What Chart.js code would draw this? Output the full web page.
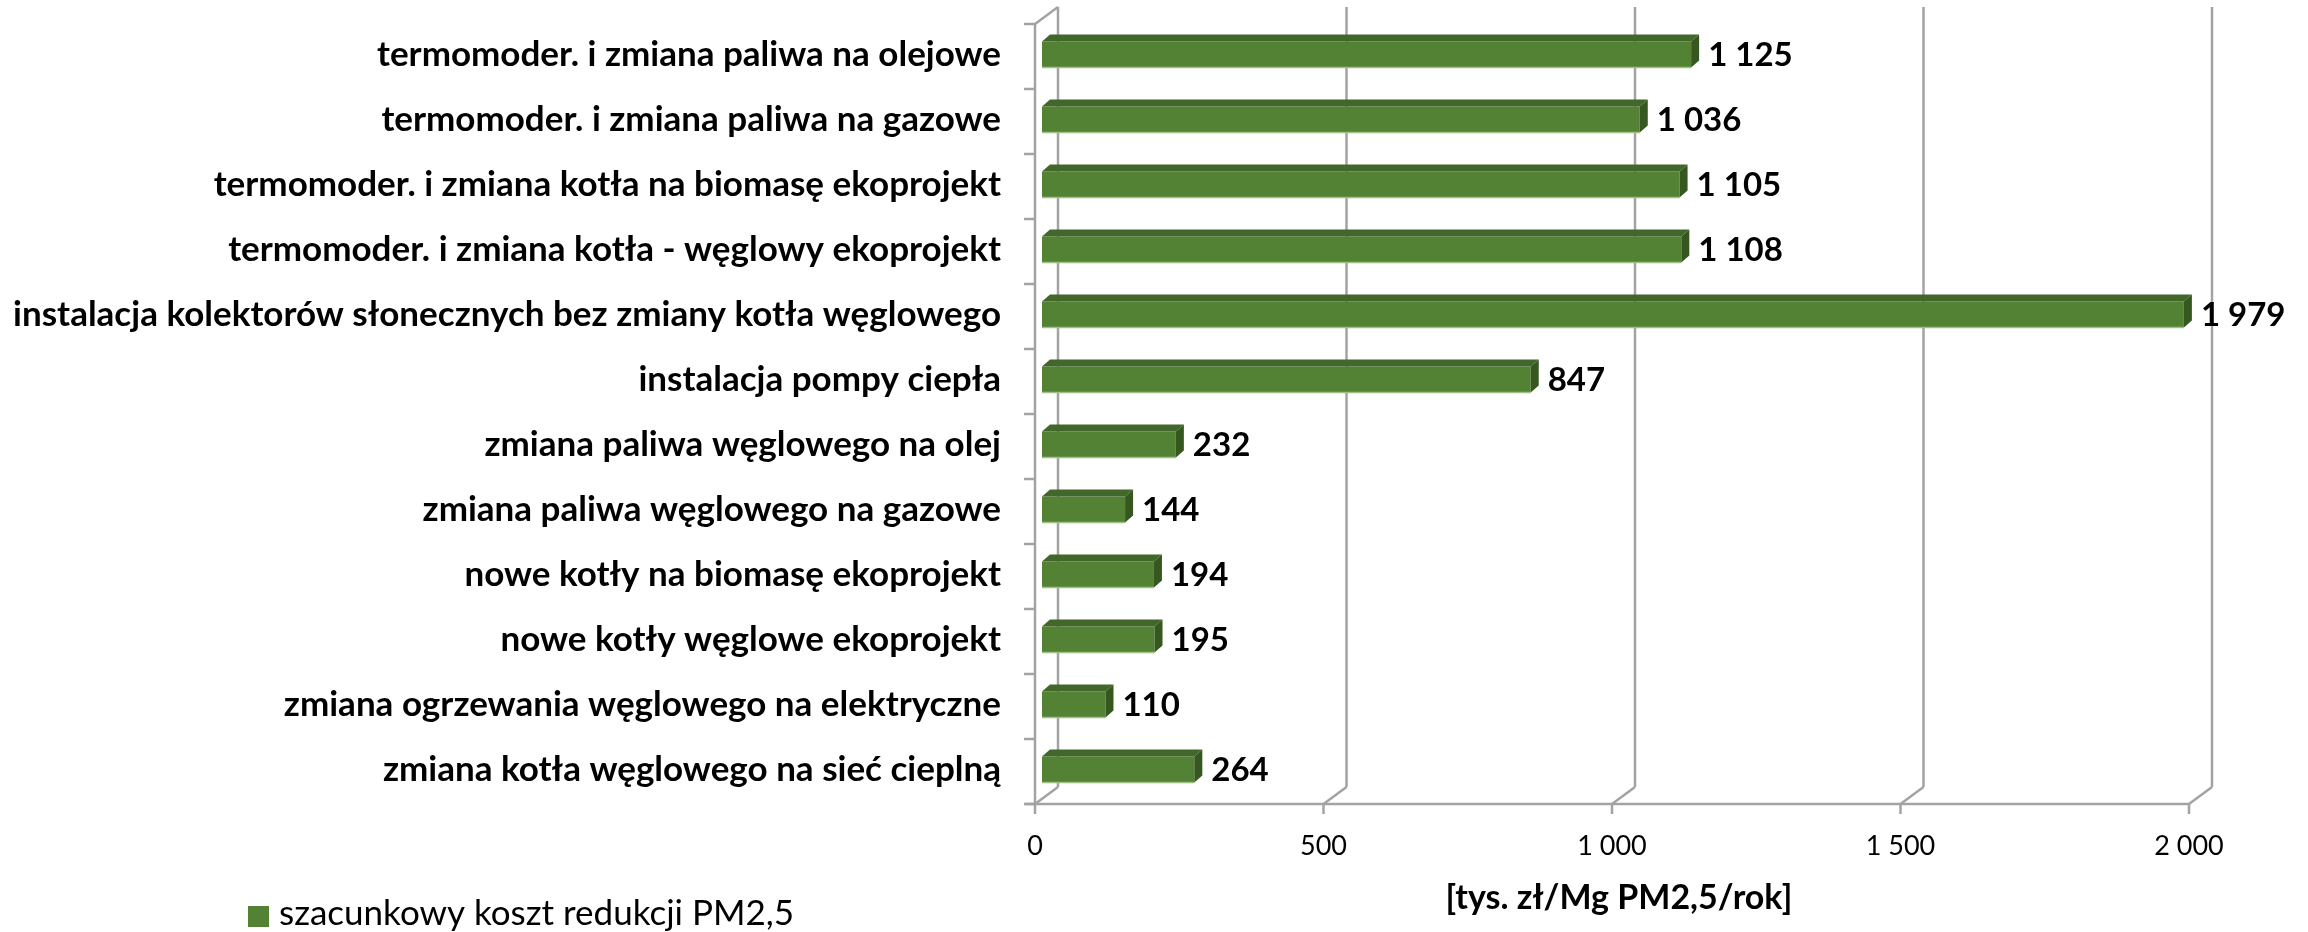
<!DOCTYPE html>
<html lang="pl">
<head>
  <meta charset="UTF-8" />
  <title>Koszt redukcji PM2,5</title>
  <script src="https://cdn.jsdelivr.net/npm/chart.js"></script>
  <style>
    html, body { margin: 0; padding: 0; background: #fff; }
    canvas { display: block; }
  </style>
</head>
<body>
  <canvas id="costChart" width="2308" height="932"></canvas>

  <script>
    // categories, top to bottom
    const measures = [
      'termomoder. i zmiana paliwa na olejowe',
      'termomoder. i zmiana paliwa na gazowe',
      'termomoder. i zmiana kotła na biomasę ekoprojekt',
      'termomoder. i zmiana kotła - węglowy ekoprojekt',
      'instalacja kolektorów słonecznych bez zmiany kotła węglowego',
      'instalacja pompy ciepła',
      'zmiana paliwa węglowego na olej',
      'zmiana paliwa węglowego na gazowe',
      'nowe kotły na biomasę ekoprojekt',
      'nowe kotły węglowe ekoprojekt',
      'zmiana ogrzewania węglowego na elektryczne',
      'zmiana kotła węglowego na sieć cieplną'
    ];
    const reductionCost = [1125, 1036, 1105, 1108, 1979, 847, 232, 144, 194, 195, 110, 264];
    const xTicks = [0, 500, 1000, 1500, 2000];

    const seriesName = 'szacunkowy koszt redukcji PM2,5';
    const axisTitle = '[tys. zł/Mg PM2,5/rok]';

    const GREEN = '#548235';
    const GREEN_TOP = '#42672a';
    const GREEN_SIDE = '#375721';
    const FRAME = '#a3a3a3';

    // 3D look: bar depth and wall offsets (px)
    const BAR_DX = 8, BAR_DY = -7;
    const FRONT_DX = -7, FRONT_DY = 2;
    const BACK_DX = 16, BACK_DY = -15;

    function fmt(v) {
      return String(v).replace(/\B(?=(\d{3})+(?!\d))/g, ' ');
    }

    function line(ctx, x1, y1, x2, y2) {
      ctx.beginPath();
      ctx.moveTo(x1, y1);
      ctx.lineTo(x2, y2);
      ctx.stroke();
    }

    // walls, floor and tick marks of the pseudo-3D frame
    const framePlugin = {
      id: 'frame3d',
      beforeDatasetsDraw(chart) {
        const ctx = chart.ctx;
        const xs = chart.scales.x, ys = chart.scales.y;
        const top = ys.top, bottom = ys.bottom;
        const x0 = xs.getPixelForValue(0);
        ctx.save();
        ctx.strokeStyle = FRAME;
        ctx.lineWidth = 2.5;
        ctx.lineCap = 'butt';

        // back wall gridlines + floor diagonals + front tick marks
        xTicks.forEach(v => {
          const px = xs.getPixelForValue(v);
          line(ctx, px + BACK_DX, top + BACK_DY, px + BACK_DX, bottom + BACK_DY);
          line(ctx, px + FRONT_DX, bottom + FRONT_DY, px + BACK_DX, bottom + BACK_DY);
          line(ctx, px + FRONT_DX, bottom + FRONT_DY, px + FRONT_DX, bottom + FRONT_DY + 10);
        });

        // front edge of the floor
        line(ctx, x0 + FRONT_DX - 10, bottom + FRONT_DY,
                  xs.getPixelForValue(xTicks[xTicks.length - 1]) + FRONT_DX, bottom + FRONT_DY);

        // left wall: front edge and top diagonal
        line(ctx, x0 + FRONT_DX, top + FRONT_DY, x0 + FRONT_DX, bottom + FRONT_DY);
        line(ctx, x0 + FRONT_DX, top + FRONT_DY, x0 + BACK_DX, top + BACK_DY);

        // category tick marks
        const band = (bottom - top) / measures.length;
        for (let k = 0; k <= measures.length; k++) {
          const py = top + FRONT_DY + k * band;
          line(ctx, x0 + FRONT_DX - 11, py, x0 + FRONT_DX, py);
        }
        ctx.restore();
      }
    };

    // top and side faces of each bar, then the value labels
    const barDepthPlugin = {
      id: 'barDepth',
      afterDatasetsDraw(chart) {
        const ctx = chart.ctx;
        const meta = chart.getDatasetMeta(0);
        const values = chart.data.datasets[0].data;
        ctx.save();
        meta.data.forEach((bar, i) => {
          const p = bar.getProps(['x', 'y', 'base', 'height'], true);
          const yt = p.y - p.height / 2, yb = p.y + p.height / 2;

          ctx.fillStyle = GREEN_TOP;
          ctx.beginPath();
          ctx.moveTo(p.base, yt);
          ctx.lineTo(p.base + BAR_DX, yt + BAR_DY);
          ctx.lineTo(p.x + BAR_DX, yt + BAR_DY);
          ctx.lineTo(p.x, yt);
          ctx.closePath();
          ctx.fill();

          ctx.fillStyle = GREEN_SIDE;
          ctx.beginPath();
          ctx.moveTo(p.x, yt);
          ctx.lineTo(p.x + BAR_DX, yt + BAR_DY);
          ctx.lineTo(p.x + BAR_DX, yb + BAR_DY);
          ctx.lineTo(p.x, yb);
          ctx.closePath();
          ctx.fill();

          // light lower edge of the front face
          ctx.strokeStyle = '#9fbf84';
          ctx.lineWidth = 1.5;
          line(ctx, p.base, yb, p.x, yb);

          ctx.fillStyle = '#000';
          ctx.font = 'bold 33px Lato, sans-serif';
          ctx.textAlign = 'left';
          ctx.textBaseline = 'middle';
          ctx.fillText(fmt(values[i]), p.x + BAR_DX + 9, p.y + 1);
        });
        ctx.restore();
      }
    };

    // legend in the lower left corner
    const legendPlugin = {
      id: 'cornerLegend',
      afterDraw(chart) {
        const ctx = chart.ctx;
        const ds = chart.data.datasets[0];
        ctx.save();
        ctx.fillStyle = ds.backgroundColor;
        ctx.fillRect(248, 906, 21, 21);
        ctx.fillStyle = '#000';
        ctx.font = '35px Lato, sans-serif';
        ctx.textAlign = 'left';
        ctx.textBaseline = 'middle';
        ctx.fillText(ds.label, 279, 914);
        ctx.restore();
      }
    };

    new Chart(document.getElementById('costChart'), {
      type: 'bar',
      data: {
        labels: measures,
        datasets: [{
          label: seriesName,
          data: reductionCost,
          backgroundColor: GREEN,
          borderWidth: 0,
          barPercentage: 0.4,
          categoryPercentage: 1
        }]
      },
      options: {
        indexAxis: 'y',
        responsive: false,
        animation: false,
        layout: { padding: { top: 22, right: 112, left: 0, bottom: 0 } },
        scales: {
          x: {
            min: 0,
            max: 2000,
            afterBuildTicks: s => { s.ticks = xTicks.map(v => ({ value: v })); },
            afterFit: s => {
              s.height = 130;
              s.paddingLeft = 0;
              s.paddingRight = 0;
            },
            ticks: {
              color: '#000',
              font: { family: 'Lato, sans-serif', size: 27 },
              padding: 28,
              labelOffset: FRONT_DX,
              maxRotation: 0,
              callback: v => fmt(v)
            },
            grid: { display: false, drawTicks: false },
            border: { display: false },
            title: {
              display: true,
              text: axisTitle,
              color: '#000',
              font: { family: 'Lato, sans-serif', size: 34, weight: 'bold' },
              padding: { top: 0, bottom: 14 }
            }
          },
          y: {
            afterFit: s => {
              s.width = 1042;
              s.paddingTop = 0;
              s.paddingBottom = 0;
            },
            ticks: {
              color: '#000',
              font: { family: 'Lato, sans-serif', size: 35, weight: 'bold' },
              padding: 41,
              autoSkip: false
            },
            grid: { display: false, drawTicks: false },
            border: { display: false }
          }
        },
        plugins: {
          legend: { display: false },
          tooltip: { enabled: false }
        }
      },
      plugins: [framePlugin, barDepthPlugin, legendPlugin]
    });
  </script>
</body>
</html>
